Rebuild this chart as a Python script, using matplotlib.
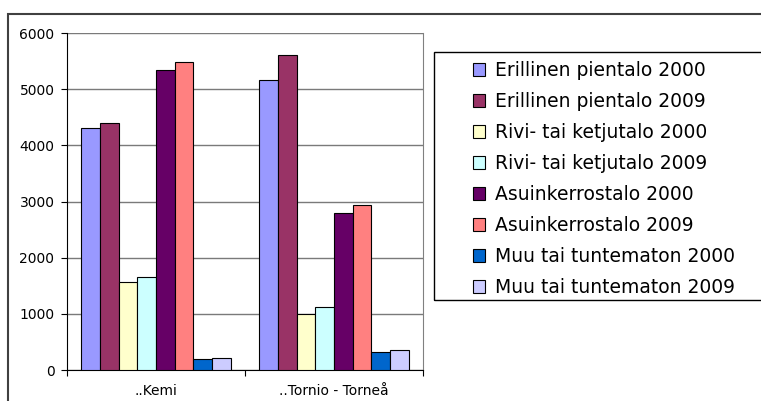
import numpy as np
import matplotlib.pyplot as plt
from matplotlib.patches import Rectangle, Patch

plt.rcParams['font.family'] = ['DejaVu Sans']

categories = ["..Kemi", "..Tornio - Torneå"]
series = [
    "Erillinen pientalo 2000",
    "Erillinen pientalo 2009",
    "Rivi- tai ketjutalo 2000",
    "Rivi- tai ketjutalo 2009",
    "Asuinkerrostalo 2000",
    "Asuinkerrostalo 2009",
    "Muu tai tuntematon 2000",
    "Muu tai tuntematon 2009",
]
kemi = [4300, 4400, 1560, 1650, 5335, 5475, 195, 205]
tornio = [5165, 5605, 990, 1125, 2795, 2930, 325, 360]
colors = ['#9999FF', '#993366', '#FFFFCC', '#CCFFFF',
          '#660066', '#FF8080', '#0066CC', '#CCCCFF']

W, H = 761, 401
fig = plt.figure(figsize=(W / 100, H / 100), dpi=100)

# outer chart frame (runs off the right/bottom edges)
fig.patches.append(Rectangle((8 / W, -0.1), 1.2, 1 - 14 / H + 0.1,
                             transform=fig.transFigure, fill=False,
                             edgecolor='#404040', lw=1.5))

ax = fig.add_axes([67 / W, 31 / H, (423 - 67) / W, (370 - 33) / H])

n = len(series)
bw = 1 / (n + 1.5)
x = np.arange(len(categories))
for i in range(n):
    vals = [kemi[i], tornio[i]]
    ax.bar(x + (i - (n - 1) / 2) * bw, vals, width=bw, color=colors[i],
           edgecolor='black', linewidth=0.8, zorder=3)

ax.set_xlim(-0.5, 1.5)
ax.set_ylim(0, 6000)
ax.set_yticks(range(0, 6001, 1000))
ax.yaxis.grid(True, color='#7a7a7a', lw=1, zorder=0)
ax.set_xticks([-0.5, 0.5, 1.5])
ax.set_xticklabels([])
ax.set_xticks(x, minor=True)
ax.set_xticklabels(categories, minor=True)
ax.tick_params(axis='x', which='minor', length=0, pad=10, labelsize=10)
ax.tick_params(axis='x', which='major', length=4, direction='out')
ax.tick_params(axis='y', length=4, direction='out', labelsize=10, pad=5)
ax.spines['top'].set_visible(False)
ax.spines['right'].set_color('#808080')
ax.spines['left'].set_color('black')
ax.spines['bottom'].set_color('black')

# legend box
fig.patches.append(Rectangle((434 / W, 1 - 300 / H), 0.5, (300 - 52) / H,
                             transform=fig.transFigure, fill=False,
                             edgecolor='black', lw=1))
handles = [Patch(facecolor=c, edgecolor='black', lw=0.8) for c in colors]
fig.legend(handles, series, loc='upper left',
           bbox_to_anchor=(458 / W, 1 - 46 / H), frameon=False,
           fontsize=13.5, handlelength=0.66, handleheight=0.66,
           handletextpad=0.5, labelspacing=0.64, borderpad=0.3)

fig.savefig('out.png', dpi=100)
